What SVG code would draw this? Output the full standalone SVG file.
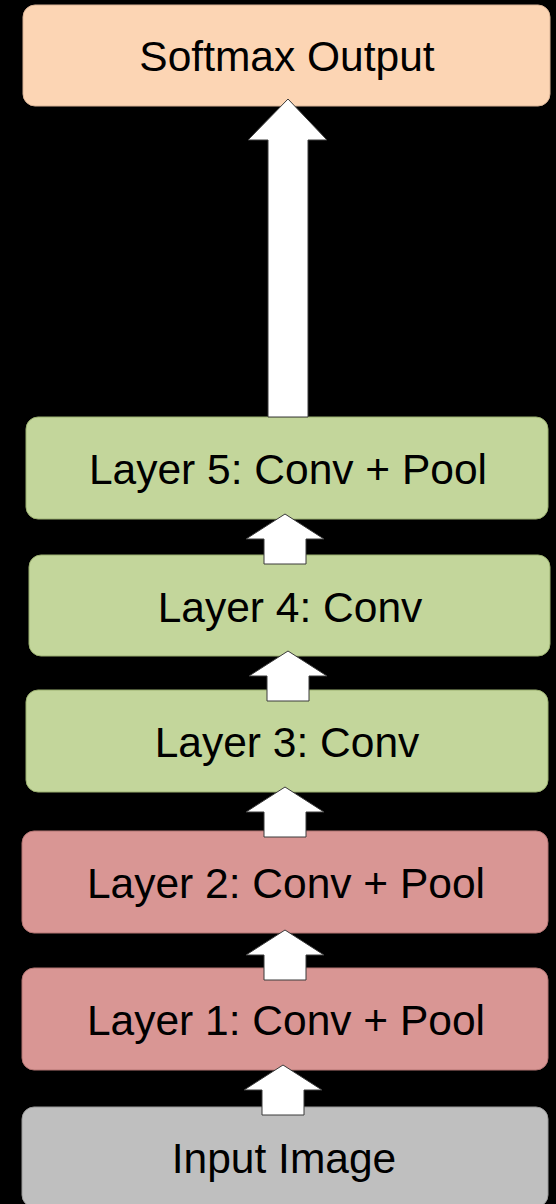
<svg xmlns="http://www.w3.org/2000/svg" xmlns:xlink="http://www.w3.org/1999/xlink" width="556" height="1204" viewBox="0 0 556 1204">
  <style>
    .box { stroke-width: 1; }
    .out { fill: #fcd5b4; stroke: #d9b396; }
    .green { fill: #c3d69b; stroke: #9bb070; }
    .red { fill: #d99694; stroke: #b27472; }
    .gray { fill: #bfbfbf; stroke: #9a9a9a; }
    .label { font-family: "Liberation Sans", Arial, Helvetica, sans-serif; font-size: 42.5px; fill: #000; text-anchor: middle; }
    .arrow { fill: #ffffff; stroke: #3a3a3a; stroke-width: 1; stroke-linejoin: miter; }
  </style>
  <defs>
    <!-- block arrow pointing up, tip at origin -->
    <path id="up" d="M 0 0 L 39 25 L 21 25 L 21 50 L -21 50 L -21 25 L -39 25 Z"/>
  </defs>
  <rect width="556" height="1204" fill="#000"/>

  <g id="softmax-output">
    <rect class="box out" x="23" y="5" width="527" height="101" rx="12"/>
    <text class="label" x="287" y="71">Softmax Output</text>
  </g>
  <g id="layer5">
    <rect class="box green" x="26" y="417" width="522" height="102" rx="12"/>
    <text class="label" x="288" y="484">Layer 5: Conv + Pool</text>
  </g>
  <g id="layer4">
    <rect class="box green" x="29" y="555" width="521" height="101" rx="12"/>
    <text class="label" x="290" y="622">Layer 4: Conv</text>
  </g>
  <g id="layer3">
    <rect class="box green" x="26" y="690" width="522" height="102" rx="12"/>
    <text class="label" x="287" y="757">Layer 3: Conv</text>
  </g>
  <g id="layer2">
    <rect class="box red" x="22" y="831" width="526" height="102" rx="12"/>
    <text class="label" x="286" y="898">Layer 2: Conv + Pool</text>
  </g>
  <g id="layer1">
    <rect class="box red" x="22" y="968" width="526" height="102" rx="12"/>
    <text class="label" x="286" y="1035">Layer 1: Conv + Pool</text>
  </g>
  <g id="input-image">
    <rect class="box gray" x="22" y="1107" width="526" height="100" rx="12"/>
    <text class="label" x="284" y="1173">Input Image</text>
  </g>

  <g id="connectors">
    <path class="arrow" d="M 288 99 L 327 140 L 308 140 L 308 417 L 268 417 L 268 140 L 248 140 Z"/>
    <use class="arrow" xlink:href="#up" x="285" y="514"/>
    <use class="arrow" xlink:href="#up" x="288" y="651"/>
    <use class="arrow" xlink:href="#up" x="285" y="787"/>
    <use class="arrow" xlink:href="#up" x="285" y="930"/>
    <use class="arrow" xlink:href="#up" x="283" y="1065"/>
  </g>
</svg>
